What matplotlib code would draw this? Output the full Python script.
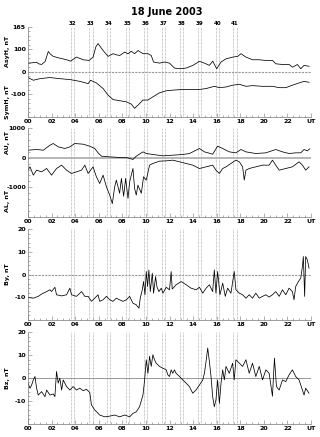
import matplotlib
matplotlib.use("Agg")
import matplotlib.pyplot as plt
import matplotlib.transforms as mtrans
from matplotlib.ticker import MultipleLocator

# ---------------- data (hours UT, values) ----------------
asy_t = [0, 0.45, 0.73, 0.9, 1.15, 1.45, 1.72, 1.9, 2.14, 2.7, 3.27, 3.61, 4.11, 4.68, 5.18, 5.52, 5.75, 5.94, 6.15, 6.37,
         6.79, 7.21, 7.5, 7.78, 8.2, 8.48, 8.76, 9.04, 9.33, 9.75, 10.17, 10.45, 10.65, 11.16, 11.58, 12.0, 12.43, 12.85, 13.41, 13.98,
         14.54, 14.96, 15.38, 15.67, 16.0, 16.37, 16.79, 17.36, 17.78, 18.06, 18.48, 19.05, 19.61, 20.17, 20.74, 21.02, 21.58, 22.15, 22.43, 22.85,
         23.13, 23.41, 23.84]
asy_v = [38, 40, 42, 35, 32, 45, 90, 78, 68, 60, 53, 47, 65, 53, 50, 65, 110, 125, 110, 94,
         68, 80, 75, 72, 87, 80, 91, 80, 94, 80, 80, 72, 43, 38, 43, 38, 16, 13, 16, 28,
         46, 38, 28, 47, 13, 43, 57, 65, 68, 80, 65, 53, 53, 50, 50, 35, 32, 32, 20, 32,
         13, 28, 24]

sym_t = [0, 0.45, 1.01, 1.86, 2.7, 3.55, 4.39, 5.1, 5.3, 5.8, 6.37, 6.79, 7.21, 7.77, 8.34, 8.76, 9.04, 9.32, 9.75, 10.17,
         10.59, 11.15, 11.72, 12.28, 13.13, 14.54, 15.1, 15.8, 16.23, 16.79, 17.35, 17.92, 18.48, 19.04, 19.89, 20.73, 21.3, 21.86, 22.42, 22.99,
         23.41, 23.83]
sym_v = [-26, -38, -31, -26, -31, -35, -43, -53, -38, -50, -75, -104, -124, -129, -134, -144, -163, -149, -126, -126,
         -112, -94, -85, -82, -79, -79, -75, -65, -71, -68, -60, -56, -65, -62, -65, -65, -71, -71, -60, -50,
         -43, -47]

au_t = [0, 0.73, 1.30, 1.86, 2.14, 2.56, 3.13, 3.55, 3.97, 4.68, 5.24, 5.66, 5.94, 6.23, 6.93, 7.77, 8.34, 8.90, 9.18, 9.75,
        10.03, 10.59, 11.44, 12.28, 13.13, 13.69, 14.54, 14.96, 15.66, 16.08, 16.51, 17.07, 17.63, 18.06, 18.48, 19.32, 20.17, 21.01, 21.58, 22.14,
        22.70, 23.13, 23.41, 23.69, 23.9]
au_v = [252, 275, 252, 420, 477, 365, 309, 365, 477, 454, 387, 309, 163, 50, 28, 6, 6, -60, 50, 196,
        140, 107, 62, 84, 107, 140, 309, 196, 118, 387, 309, 196, 163, 275, 196, 140, 163, 275, 196, 140,
        163, 163, 275, 230, 300]

al_t = [0, 0.17, 0.45, 0.73, 1.15, 1.58, 2.00, 2.42, 2.85, 3.27, 3.69, 4.11, 4.54, 4.82, 5.10, 5.52, 5.80, 6.08, 6.37, 6.65,
        6.93, 7.15, 7.35, 7.49, 7.77, 7.92, 8.11, 8.28, 8.48, 8.62, 8.90, 9.04, 9.18, 9.32, 9.61, 9.80, 10.03, 10.31, 10.59, 11.15,
        11.72, 12.28, 12.85, 13.41, 13.97, 14.54, 15.10, 15.66, 15.94, 16.23, 16.51, 16.79, 17.21, 17.63, 17.92, 18.20, 18.34, 18.48, 18.76, 19.32,
        19.89, 20.45, 20.73, 21.01, 21.30, 21.86, 22.42, 22.99, 23.27, 23.55, 23.83]
al_v = [-421, -309, -589, -421, -477, -365, -589, -365, -252, -421, -533, -477, -421, -252, -533, -309, -645, -870, -589, -982,
        -1262, -1550, -982, -757, -1200, -700, -1300, -700, -1374, -813, -365, -1038, -1262, -925, -1200, -645, -757, -252, -196, -118,
        -107, -84, -140, -196, -252, -365, -309, -252, -421, -533, -365, -309, -196, -84, -140, -309, -757, -421, -365, -309,
        -252, -252, -84, -252, -421, -365, -309, -140, -252, -421, -309]

by_t = [0, 0.45, 0.87, 1.15, 1.58, 1.86, 2.00, 2.28, 2.42, 2.85, 3.27, 3.55, 3.69, 4.11, 4.54, 4.82, 5.10, 5.38, 5.66, 5.94,
        6.08, 6.37, 6.65, 6.93, 7.21, 7.49, 7.77, 8.06, 8.34, 8.62, 8.90, 9.18, 9.41, 9.52, 9.69, 9.80, 9.92, 10.03, 10.14, 10.25,
        10.37, 10.54, 10.65, 10.82, 10.93, 11.10, 11.30, 11.44, 11.72, 12.00, 12.14, 12.23, 12.56, 12.99, 13.41, 13.83, 14.25, 14.54, 14.82, 15.10,
        15.38, 15.66, 15.80, 15.94, 16.08, 16.28, 16.51, 16.73, 16.93, 17.21, 17.49, 17.63, 17.92, 18.20, 18.48, 18.76, 19.04, 19.32, 19.61, 19.89,
        20.17, 20.45, 20.73, 21.01, 21.30, 21.58, 21.86, 22.14, 22.42, 22.56, 22.70, 22.93, 23.13, 23.27, 23.35, 23.46, 23.55, 23.69, 23.83]
by_v = [-10.1, -10.4, -9.6, -8.6, -7.5, -6.7, -7.5, -5.6, -8.9, -9.4, -8.9, -6.0, -8.9, -9.6, -7.5, -9.6, -9.6, -11.8, -10.4, -8.9,
        -11.8, -11.1, -9.6, -11.1, -11.8, -10.4, -11.1, -11.8, -11.1, -9.6, -12.6, -13.3, -14.8, -10.4, -6.7, -3.1, -8.9, 1.3, -5.3, 2.0,
        -7.5, 0.6, -8.2, -0.9, -5.3, -7.5, -6.0, -8.2, -5.6, -6.7, 1.3, -6.4, -4.5, -3.1, -4.5, -6.0, -6.7, -5.6, -8.2, -6.0,
        -4.5, -7.5, 2.0, -8.2, 1.3, -8.9, -3.8, -9.6, -6.0, -8.2, 1.3, -6.7, -8.2, -8.9, -10.4, -8.9, -10.4, -8.2, -10.4, -9.6,
        -8.9, -9.9, -8.9, -7.5, -9.6, -6.7, -8.9, -6.0, -7.5, -11.1, -5.3, -3.1, -1.6, 3.5, 7.9, -9.6, 7.9, 6.4, 2.8]

bz_t = [0, 0.17, 0.31, 0.45, 0.59, 0.73, 0.87, 1.15, 1.44, 1.58, 1.86, 2.14, 2.28, 2.42, 2.56, 2.70, 2.85, 2.99, 3.27, 3.55,
        3.83, 4.11, 4.39, 4.68, 4.96, 5.24, 5.38, 5.66, 6.08, 6.51, 6.93, 7.35, 7.77, 8.20, 8.62, 8.90, 9.18, 9.46, 9.75, 9.89,
        10.03, 10.17, 10.31, 10.45, 10.59, 10.73, 10.87, 11.15, 11.44, 11.72, 11.86, 12.00, 12.14, 12.28, 12.42, 12.56, 12.85, 13.13, 13.41, 13.69,
        13.97, 14.25, 14.54, 14.82, 14.96, 15.10, 15.24, 15.38, 15.52, 15.66, 15.80, 15.94, 16.08, 16.23, 16.37, 16.51, 16.65, 16.79, 17.07, 17.35,
        17.49, 17.63, 17.92, 18.20, 18.48, 18.76, 19.04, 19.32, 19.61, 19.89, 20.17, 20.45, 20.73, 20.90, 21.07, 21.30, 21.58, 21.86, 22.14, 22.42,
        22.70, 22.99, 23.27, 23.41, 23.55, 23.83]
bz_v = [-2.3, -4.5, -3.1, -0.9, 0.6, -4.5, -7.5, -6.0, -8.2, -5.3, -7.5, -7.0, -8.2, 2.8, -2.3, -0.1, -5.3, -0.9, -3.8, -5.3,
        -3.8, -5.3, -4.5, -5.6, -5.0, -6.4, -11.8, -14.0, -16.2, -17.0, -16.7, -16.2, -17.0, -16.2, -17.0, -15.5, -14.8, -12.6, -7.5, -0.9,
        7.9, 2.0, 9.4, 5.0, 10.1, 7.9, 6.4, 5.0, 4.2, 3.5, 1.3, 0.6, 3.5, 2.0, 3.5, 2.0, 0.6, -0.9, -2.3, -3.8,
        -6.7, -5.3, -3.1, -0.9, 2.0, 7.2, 13.0, 7.2, 0.6, -8.2, -12.6, -9.6, -0.9, -11.1, -2.3, 3.5, -0.9, 5.0, 2.0, 6.4,
        -0.9, 7.9, 6.4, 5.0, 7.9, 2.0, 6.4, 0.6, 5.0, -0.9, 3.5, 2.0, -8.0, 8.6, -3.8, -5.3, -0.9, -1.6, 1.3, 3.5,
        0.6, -0.9, -5.3, -7.5, -4.5, -6.7]

event_start = [3.63, 5.18, 6.71, 8.34, 9.86, 11.38, 12.91, 14.43, 15.95, 17.41]
event_end = [3.89, 5.47, 6.99, 8.60, 10.08, 11.60, 13.13, 14.69, 16.17, 17.69]
event_labels = ["32", "33", "34", "35", "36", "37", "38", "39", "40", "41"]

hour_ticks = [0, 2, 4, 6, 8, 10, 12, 14, 16, 18, 20, 22, 24]
hour_labels = ["00", "02", "04", "06", "08", "10", "12", "14", "16", "18", "20", "22", "UT"]

# ---------------- figure ----------------
fig = plt.figure(figsize=(3.2, 4.37), dpi=100)
fig.text(0.52, 0.985, "18 June 2003", ha="center", va="top", fontsize=7, fontweight="bold")

L, W = 0.0875, 0.8844
rects = [[L, 0.7330, W, 0.2059], [L, 0.5034, W, 0.2037], [L, 0.2677, W, 0.2082], [L, 0.0304, W, 0.2098]]
axs = [fig.add_axes(r) for r in rects]

TF = dict(fontsize=4.5, fontweight="bold")
YLAB_X = -0.072  # axes fraction for the rotated y labels


def style(ax, ylim, yticks, ylabels, yminor):
    ax.set_xlim(0, 24)
    ax.set_ylim(*ylim)
    for s in ["top", "right"]:
        ax.spines[s].set_visible(False)
    for s in ["left", "bottom"]:
        ax.spines[s].set_color("#777777")
        ax.spines[s].set_linewidth(0.5)
    ax.set_xticks(hour_ticks)
    ax.set_xticklabels(hour_labels, **TF)
    ax.xaxis.set_minor_locator(MultipleLocator(0.5))
    ax.set_yticks(yticks)
    ax.set_yticklabels(ylabels, **TF)
    ax.yaxis.set_minor_locator(MultipleLocator(yminor))
    ax.tick_params(which="both", direction="in", color="#777777", width=0.4, pad=1.5)
    ax.tick_params(which="major", length=3)
    ax.tick_params(which="minor", length=1.5)
    for a, b in zip(event_start, event_end):
        ax.axvline(a, color="#999999", lw=0.5, ls=(0, (1, 1)))
        ax.axvline(b, color="#999999", lw=0.5, ls=(0, (1, 1)))


def ylab(ax, y, s, fs=4.5):
    tr = mtrans.blended_transform_factory(ax.transAxes, ax.transData)
    ax.text(YLAB_X, y, s, rotation=90, ha="center", va="center", transform=tr,
            fontsize=fs, fontweight="bold")


LW = 0.55
# panel 1
ax = axs[0]
style(ax, (-200, 200), [-100, 0, 100, 200], ["-100", "0", "100", "165"], 20)
ax.axhline(0, color="#999999", lw=0.8, ls=(0, (2, 1)))
ax.plot(asy_t, asy_v, color="black", lw=LW)
ax.plot(sym_t, sym_v, color="black", lw=LW)
ylab(ax, 88, "AsyH, nT")
ylab(ax, -135, "SymH, nT")
for a, b, lab in zip(event_start, event_end, event_labels):
    ax.text((a + b) / 2, 203, lab, ha="center", va="bottom", fontsize=4, fontweight="bold")

# panel 2
ax = axs[1]
style(ax, (-2000, 1000), [-1000, 0, 1000], ["-1000", "0", "1000"], 200)
ax.axhline(0, color="#aaaaaa", lw=1.2)
ax.plot(au_t, au_v, color="black", lw=LW)
ax.plot(al_t, al_v, color="black", lw=LW)
ylab(ax, 520, "AU, nT")
ylab(ax, -1450, "AL, nT")

# panel 3
ax = axs[2]
style(ax, (-20, 20), [-10, 0, 10, 20], ["-10", "0", "10", "20"], 2)
ax.axhline(0, color="#999999", lw=0.8, ls=(0, (2, 1)))
ax.plot(by_t, by_v, color="black", lw=LW)
ylab(ax, 0, "By, nT")

# panel 4
ax = axs[3]
style(ax, (-20, 20), [-10, 0, 10, 20], ["-10", "0", "10", "20"], 2)
ax.axhline(0, color="#888888", lw=0.6)
ax.plot(bz_t, bz_v, color="black", lw=LW)
ylab(ax, 0, "Bz, nT")

fig.savefig("out.png", dpi=100)
